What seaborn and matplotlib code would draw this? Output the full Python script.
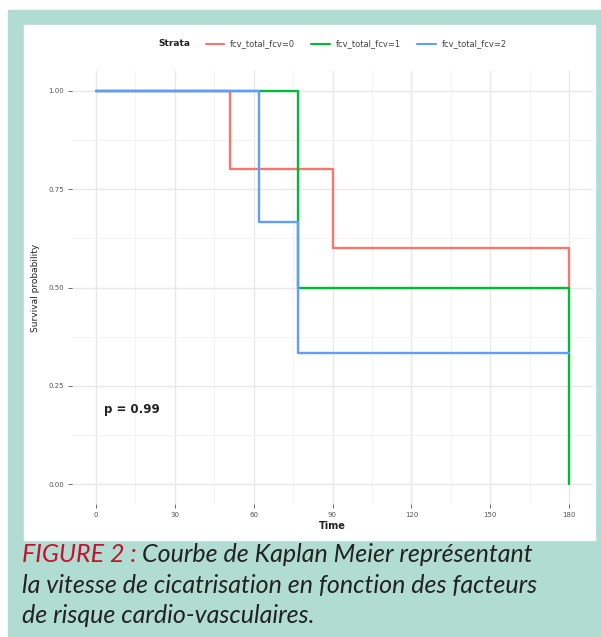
import matplotlib
matplotlib.use("Agg")
import matplotlib.pyplot as plt
from matplotlib.patches import Rectangle
import seaborn as sns
import pandas as pd
import numpy as np

# Courbes de Kaplan-Meier
strata = ["fcv_total_fcv=0", "fcv_total_fcv=1", "fcv_total_fcv=2"]
times_0 = [0, 51, 90, 180]
surv_0 = [1.0, 0.8, 0.6, 0.5]
times_1 = [0, 77, 180]
surv_1 = [1.0, 0.5, 0.0]
times_2 = [0, 62, 77, 180]
surv_2 = [1.0, 0.667, 0.333, 0.333]

x_ticks = [0, 30, 60, 90, 120, 150, 180]
y_ticks = [0.00, 0.25, 0.50, 0.75, 1.00]
p_value = "p = 0.99"

palette = ["#F8766D", "#00BA38", "#619CFF"]
teal = "#B0DCD2"

df = pd.concat([
    pd.DataFrame({"time": t, "surv": s, "strata": name})
    for t, s, name in zip([times_0, times_1, times_2],
                          [surv_0, surv_1, surv_2], strata)
], ignore_index=True)

sns.set_theme(style="white")
plt.rcParams["font.family"] = ["DejaVu Sans"]

W, H = 601, 637
fig = plt.figure(figsize=(W / 100, H / 100), dpi=100)
fig.patch.set_facecolor("white")

# cadre turquoise + panneau blanc
fig.patches.append(Rectangle((8 / W, 0), 1, (H - 10) / H,
                             transform=fig.transFigure, color=teal, zorder=-2))
fig.patches.append(Rectangle((24 / W, (H - 540) / H), (595 - 24) / W, (540 - 25) / H,
                             transform=fig.transFigure, color="white", zorder=-1))

ax = fig.add_axes([72 / W, (H - 504) / H, (593 - 72) / W, (504 - 71) / H])
ax.set_facecolor("white")

sns.lineplot(data=df, x="time", y="surv", hue="strata", palette=palette,
             drawstyle="steps-post", linewidth=1.7, legend=False, ax=ax,
             estimator=None, sort=False)

ax.set_xlim(-9, 189)
ax.set_ylim(-0.05, 1.05)
ax.set_xticks(x_ticks)
ax.set_xticklabels([str(v) for v in x_ticks])
ax.set_yticks(y_ticks)
ax.set_yticklabels([f"{v:.2f}" for v in y_ticks])
ax.set_xticks([15, 45, 75, 105, 135, 165], minor=True)
ax.set_yticks([0.125, 0.375, 0.625, 0.875], minor=True)
ax.grid(which="major", color="#E8E8E8", linewidth=1.0)
ax.grid(which="minor", color="#F3F3F3", linewidth=0.7)
ax.set_axisbelow(True)
for s in ax.spines.values():
    s.set_visible(False)
ax.tick_params(axis="both", which="major", labelsize=5, colors="#555555",
               length=3, width=0.6, pad=2.5, direction="out",
               bottom=True, left=True)
ax.tick_params(which="minor", length=0)

ax.set_xlabel("Time", fontsize=7, fontweight="bold", color="#222222", labelpad=2.5)
ax.set_ylabel("Survival probability", fontsize=6.5, color="#222222", labelpad=6)

ax.text(3, 0.19, p_value, fontsize=8.5, fontweight="bold", color="#222222",
        va="center", ha="left")

# légende en haut
fig.text(158 / W, 1 - 44 / H, "Strata", fontsize=6.5, fontweight="bold",
         va="center", ha="left", color="#222222")
handles = [plt.Line2D([], [], color=c, lw=1.5) for c in palette]
fig.legend(handles, strata, loc="center left", ncol=3,
           bbox_to_anchor=(198 / W, 1 - 44 / H), frameon=False,
           fontsize=6, handlelength=2.2, handletextpad=0.7, columnspacing=2.0,
           labelcolor="#444444")

# légende de la figure
cap_font = ["Lato", "DejaVu Sans"]
cap_size = 18
x0 = 22 / W
t1 = fig.text(x0, 1 - 562 / H, "FIGURE 2 :", fontsize=cap_size, style="italic",
              color="#C4122F", family=cap_font, va="baseline")
fig.canvas.draw()
bb = t1.get_window_extent()
fig.text(bb.x1 / W + 5 / W, 1 - 562 / H, "Courbe de Kaplan Meier représentant",
         fontsize=cap_size, style="italic", color="#222222", family=cap_font,
         va="baseline")
fig.text(x0, 1 - 593 / H, "la vitesse de cicatrisation en fonction des facteurs",
         fontsize=cap_size, style="italic", color="#222222", family=cap_font,
         va="baseline")
fig.text(x0, 1 - 623 / H, "de risque cardio-vasculaires.",
         fontsize=cap_size, style="italic", color="#222222", family=cap_font,
         va="baseline")

fig.savefig("out.png", dpi=100)
